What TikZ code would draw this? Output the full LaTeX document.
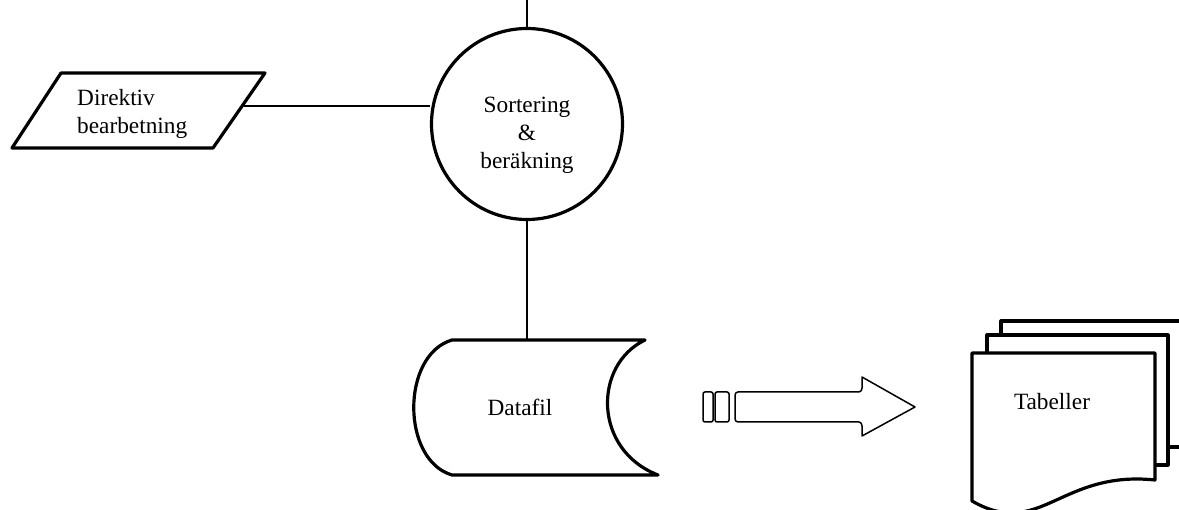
\documentclass[tikz,border=0pt]{standalone}
\usepackage{fontspec}
\setmainfont{Liberation Serif}
\begin{document}
\begin{tikzpicture}[x=1pt,y=-1pt,
  shapeline/.style={line width=3.2pt, line join=round},
  conn/.style={line width=1.9pt},
  blockarrow/.style={line width=1.5pt, rounded corners=2pt},
  lbl/.style={font=\fontsize{23.3}{28}\selectfont, inner sep=0pt}]
\useasboundingbox (0,0) rectangle (1179,510);
% process circle
\node[draw, circle, shapeline, minimum size=191pt, inner sep=0pt] (sort) at (527,124) {};
\node[lbl, align=center, anchor=north] (sorttxt) at (527,96.5) {Sortering\\\&\\beräkning};
% parallelogram
\draw[shapeline] (61,73) -- (265,73) -- (213,148) -- (12,148) -- cycle;
\node[lbl, align=left, anchor=north west] (dir) at (77,89.5) {Direktiv\\bearbetning};
\coordinate (dirR) at (244,106);
% data file
\draw[shapeline] (452,340) -- (645,340) .. controls (593,365) and (593,450) .. (658,475) -- (452,475)
  .. controls (401,460) and (401,355) .. (452,340) -- cycle;
\node[lbl, anchor=base] (data) at (520,416) {Datafil};
\coordinate (dataTop) at (527,340);
% connectors
\coordinate (topEnd) at (527,0);
\draw[conn] (topEnd) -- (sort.north);
\draw[conn] (dirR) -- (dirR -| sort.west);
\draw[conn] (sort.south) -- (dataTop);
% block arrow
\draw[blockarrow] (703,392) rectangle (713,422);
\draw[blockarrow] (715,392) rectangle (729,422);
\draw[line width=1.5pt, line join=round] (738,392) -- (859,392) to[out=0,in=-90] (862,388) -- (862,377) -- (915,407) -- (862,436) -- (862,426) to[out=90,in=0] (859,422) -- (738,422) to[out=180,in=-90] (735,419) -- (735,395) to[out=90,in=180] (738,392) -- cycle;
% documents (Tabeller)
\draw[shapeline] (1001,335) -- (1001,321) -- (1181,321);
\draw[shapeline] (1168,447) -- (1181,447);
\draw[shapeline] (987,353) -- (987,335) -- (1168,335) -- (1168,465) -- (1155,465);
\draw[shapeline] (972,353) -- (1155,353) -- (1155,480)
  .. controls (1060,470) and (1040,540) .. (972,501) -- cycle;
\node[lbl, anchor=base] (tab) at (1052,410) {Tabeller};
\end{tikzpicture}
\end{document}
